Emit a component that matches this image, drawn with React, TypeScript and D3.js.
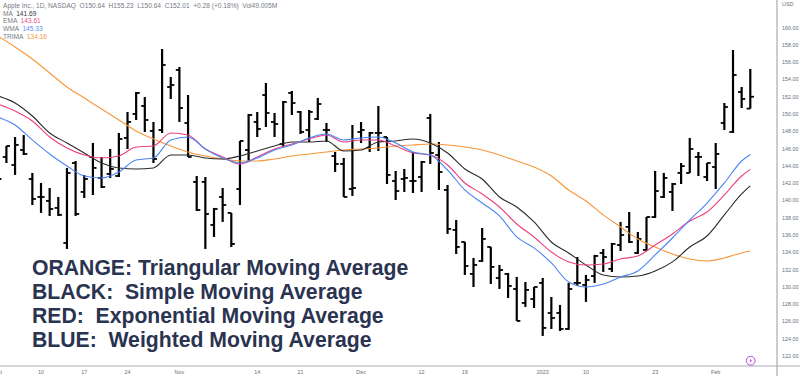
import React from "react";
import * as d3 from "d3";

const W = 800, H = 376;
const firstBar = -1;
const opens = [142.7,145.04,144.11,145.85,142.49,140.41,139.95,139.14,135.08,144.34,140.99,145.04,142.61,143.07,142.84,147.24,150.02,150.94,148.05,148.16,153.14,155.11,148.97,142.15,142.15,137.17,140.41,138.56,141.33,145.85,149.09,152.21,149.09,146.54,152.45,150.25,148.16,149.44,148.16,145.15,144.23,141.33,147.93,146.08,147.82,147.35,142.26,142.49,142.26,142.72,149.55,145.27,141.22,136.59,135.2,131.5,133,134.62,131.03,131.5,129.76,128.14,128.6,130.46,126.98,126.98,125.13,130.46,130.22,131.26,133.93,132.08,134.85,136.94,133.93,134.28,138.09,140.41,140.99,143.19,143.19,145.04,142.72,143.88,148.97,147.93,152.56,150.64];
const highs = [144.1,146.31,147.35,147.58,143.19,142.03,141.45,140.41,143.77,144.57,142.96,146.66,145.04,145.96,147.82,150.25,152.56,151.98,149.09,157.54,154.3,155.46,152.21,142.84,142.72,139.14,141.45,138.56,146.89,150.02,150.25,153.6,150.13,151.52,152.68,150.36,150.48,151.87,148.97,145.62,144.92,148.74,149.09,147.93,150.94,147.35,143.42,143.65,145.62,144.57,150.02,146.77,141.8,137.75,135.2,133.35,136.82,134.62,132.54,131.61,131.15,130.57,129.99,131.03,128.83,127.91,130.46,133.46,131.38,133.7,134.39,135.08,137.52,138.67,136.36,138.09,143.42,143.19,142.03,144.34,147.24,145.62,144.34,146.66,151.29,157.42,153.14,155.23];
const lows = [141.2,144.34,142.96,145.27,139.48,138.56,138.21,138.21,134.39,138.21,140.29,140.64,141.45,142.61,142.72,145.96,149.32,147.93,144.34,147.82,151.75,149.09,145.04,138.79,134.39,135.78,137.52,134.62,139.48,144.46,147.35,148.51,147.35,146.2,149.9,147.7,146.77,149.32,146.77,143.3,140.41,140.53,146.66,145.62,145.73,141.91,140.06,140.99,140.87,140.99,144.23,141.22,136.13,133.81,131.38,129.99,132.89,130.34,129.76,128.72,126.06,127.68,127.56,124.32,125.13,124.9,125.02,130.11,128.26,130.46,131.73,131.73,134.16,135.08,133.81,134.16,137.98,140.29,138.79,141.91,143.19,142.84,142.26,141.33,148.16,147.82,150.71,150.64];
const closes = [142.49,146.31,146.43,145.39,140.18,140.41,139.02,138.33,143.19,138.44,142.49,143.77,141.57,143.65,147.12,149.09,152.45,149.32,144.81,155.69,153.37,150.71,145.04,138.9,138.44,139.02,139.48,134.97,146.89,149.9,148.28,150.13,148.86,151.4,151.29,147.93,150.25,151.17,148.16,144.23,140.41,141.45,148.16,147.82,147.82,142.96,141.1,142.61,142.26,144.46,145.5,143.3,136.71,134.62,132.42,132.54,135.55,132.31,131.96,130.11,126.06,129.65,129.99,125.25,126.4,125.13,129.76,130.46,130.8,133.58,133.46,134.97,136.01,135.2,135.55,138.09,141.1,142.61,141.91,143.98,145.96,145.04,144.34,145.39,150.82,154.53,151.75,152.01];

const maIndex = [-1,1,3,5,7,9,11,13,15,17,19,21,23,25,27,29,31,33,35,37,39,41,43,45,47,49,51,53,55,57,59,61,63,65,67,69,71,73,75,77,79,81,83,85,86];
const sma = [152.1,151.29,149.78,147.82,146.66,145.5,144.34,143.77,143.65,143.77,145.27,145.27,144.92,144.81,145.15,145.73,146.31,146.77,146.77,146.89,145.73,145.85,146.77,146.89,147.12,146.66,145.5,143.65,142.49,140.41,139.25,137.52,135.2,133.93,132.54,131.38,131.15,131.26,131.84,132.89,134.62,135.89,138.33,140.76,141.69];
const ema = [151.17,150.36,149.21,147.35,146.08,145.27,144.92,145.15,146.2,146.31,147.82,147.58,145.96,145.04,144.23,145.04,145.96,146.54,147.12,147.58,146.77,147.01,147.01,146.31,145.5,145.27,144.11,142.03,140.76,139.25,137.28,135.78,134.04,132.89,132.54,132.65,133.23,133.58,134.85,136.13,137.63,138.67,140.64,142.84,143.61];
const wma = [149.67,148.74,147.01,145.39,144,142.84,142.61,143.3,144.69,144.92,147.01,147.35,145.96,144.92,144.34,144.92,145.85,146.43,147.24,147.7,147.01,147.24,147.35,146.66,145.62,145.27,143.53,141.22,139.71,138.21,135.78,134.51,132.77,130.57,129.99,130.34,131.15,131.84,133.7,135.66,137.75,139.71,142.03,144.57,145.33];
const trima = [159.04,157.77,156.38,154.76,153.14,151.87,150.59,149.32,148.05,147.12,146.31,145.62,145.15,144.81,144.57,144.57,144.81,145.15,145.39,145.62,145.85,145.96,146.08,146.31,146.43,146.54,146.43,146.2,145.85,145.27,144.57,143.88,142.84,141.22,139.95,138.33,136.94,135.55,134.62,133.81,133.23,133,133.35,133.93,134.16];

const priceTicks = d3.range(122, 161, 2);
const dateLabels = ["Oct","10","17","24","Nov","14","21","Dec","12","19","2023","10","23","Feb"];
const dateIndex = [-1,4,9,14,20,29,34,41,48,53,62,67,75,82];
const noteLines = ["ORANGE: Triangular Moving Average","BLACK:  Simple Moving Average","RED:  Exponential Moving Average","BLUE:  Weighted Moving Average"];
const noteBaselines = [275, 299, 323, 347];
const headerText = "Apple Inc., 1D, NASDAQ  O150.64  H155.23  L150.64  C152.01  +0.28 (+0.18%)  Vol49.005M";
const legendNames = ["MA","EMA","WMA","TRIMA"];
const legendValues = ["141.69","143.61","145.33","134.16"];
const legendColors = ["#333844","#f0508a","#5b8ff5","#f79a3c"];

const x = d3.scaleLinear().domain([0, 86]).range([6.4, 750.3]);
const y = d3.scaleLinear().domain([158, 122]).range([45, 356]);
const font = "'Liberation Sans', Arial, sans-serif";
const lineGen = d3.line<number>().x((_, i) => x(maIndex[i])).y(d => y(d)).curve(d3.curveMonotoneX);
const maSeries = [
  { v: trima, c: "#f7963a" },
  { v: sma, c: "#2a2a2a" },
  { v: ema, c: "#ef3f7f" },
  { v: wma, c: "#4a85f6" },
];

export default function App() {
  return (
    <svg width={W} height={H} viewBox={`0 0 ${W} ${H}`} style={{ position: "absolute", left: 0, top: 0, background: "#fff" }} fontFamily={font}>
      <g stroke="#000" fill="none">
        {opens.map((o, i) => {
          const bx = x(i + firstBar);
          return (
            <g key={i}>
              <line x1={bx} x2={bx} y1={y(highs[i])} y2={y(lows[i])} strokeWidth={2.2} />
              <line x1={bx - 3.6} x2={bx} y1={y(o)} y2={y(o)} strokeWidth={1.8} />
              <line x1={bx} x2={bx + 3.6} y1={y(closes[i])} y2={y(closes[i])} strokeWidth={1.8} />
            </g>
          );
        })}
      </g>
      {maSeries.map((s, i) => (
        <path key={i} d={lineGen(s.v) || ""} fill="none" stroke={s.c} strokeWidth={1.1} />
      ))}
      <rect x={777} y={0} width={23} height={H} fill="#fff" />
      <rect x={0} y={366} width={W} height={10} fill="#fff" />
      <line x1={777} x2={777} y1={0} y2={H} stroke="#a8abb2" strokeWidth={1.2} />
      <line x1={0} x2={W} y1={366} y2={366} stroke="#a8abb2" strokeWidth={1.2} />
      <g fill="#6a6e78" fontSize={5.4}>
        {priceTicks.map(t => (
          <text key={t} x={782} y={y(t)} dy="0.35em">{t.toFixed(2)}</text>
        ))}
        <text x={782} y={6}>USD</text>
        {dateLabels.map((d, i) => (
          <text key={i} x={x(dateIndex[i])} y={374} textAnchor="middle">{d}</text>
        ))}
      </g>
      <g fontSize={6.6} fill="#777b85">
        <text x={3} y={8} xmlSpace="preserve">{headerText}</text>
        {legendNames.map((n, i) => (
          <text key={n} x={3} y={15.7 + i * 7.6} xmlSpace="preserve">
            {n}{"  "}<tspan fill={legendColors[i]}>{legendValues[i]}</tspan>
          </text>
        ))}
      </g>
      <g fontSize={21.2} fontWeight="bold" fill="#2a3350">
        {noteLines.map((t, i) => (
          <text key={i} x={32} y={noteBaselines[i]} xmlSpace="preserve">{t}</text>
        ))}
      </g>
      <g transform="translate(750.7,360.7)">
        <circle r={4.4} fill="none" stroke="#b44fe0" strokeWidth={1} />
        <path d="M0.8,-2.6 L-1.4,0.5 L-0.1,0.5 L-0.8,2.6 L1.4,-0.5 L0.1,-0.5 Z" fill="#b44fe0" />
      </g>
    </svg>
  );
}
